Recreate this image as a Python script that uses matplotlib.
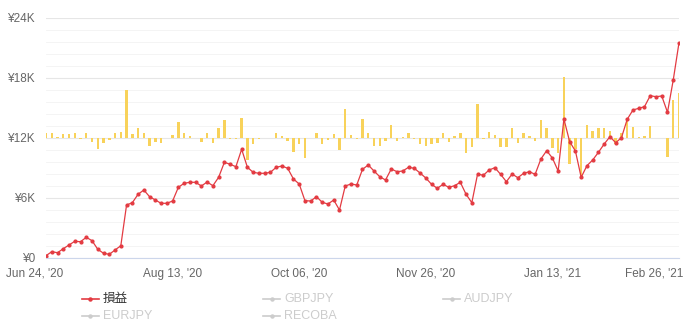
import numpy as np
import matplotlib.pyplot as plt
import matplotlib.transforms as mtransforms
from matplotlib.lines import Line2D

# cumulative profit (yen), one value per trading point
pnl = [230, 630, 530, 930, 1300, 1670, 1630, 2070, 1730, 870,
       470, 370, 800, 1230, 5300, 5530, 6370, 6800, 6130, 5800,
       5470, 5470, 5700, 7070, 7470, 7570, 7570, 7200, 7600, 7230,
       8070, 9570, 9370, 9130, 10870, 9070, 8570, 8470, 8470, 8570,
       9070, 9200, 8970, 7900, 7400, 5730, 5700, 6130, 5570, 5400,
       5800, 4800, 7200, 7400, 7300, 8870, 9300, 8700, 8130, 7800,
       8900, 8630, 8700, 9070, 8970, 8500, 8000, 7370, 6970, 7370,
       7070, 7230, 7570, 6370, 5530, 8400, 8270, 8800, 9030, 8370,
       7630, 8400, 8030, 8470, 8630, 8370, 9900, 10730, 10000, 8700,
       13900, 11630, 10700, 8070, 9230, 9800, 10570, 11400, 12130, 11530,
       12030, 13870, 14800, 14970, 15130, 16230, 16130, 16200, 14570, 17800,
       21530]

# per-point change bars
daily = [470, 500, 100, 400, 400, 470, -100, 470, -430, -1100,
         -500, -150, 500, 630, 4830, 430, 970, 500, -800, -430,
         -470, 0, 350, 1570, 500, 230, 0, -430, 500, -500,
         1000, 1800, -100, -100, 1970, -2170, -600, -100, 0, 50,
         500, 170, -270, -1370, -600, -2000, 0, 500, -600, -200,
         400, -1200, 2900, 300, -50, 1900, 500, -770, -770, -270,
         1300, -270, 70, 500, -50, -600, -830, -600, -530, 500,
         -430, 170, 500, -1530, -930, 3400, -50, 570, 300, -870,
         -930, 970, -500, 500, 170, -270, 1800, 1000, -1030, -1530,
         6130, -2600, -1100, -3800, 1300, 670, 970, 970, 730, -600,
         500, 1970, 1130, 100, 170, 1230, -30, 50, -1870, 3800,
         4470]

tick_pos = [0, 22, 44, 66, 88, 110]
tick_labels = ["Jun 24, '20", "Aug 13, '20", "Oct 06, '20",
               "Nov 26, '20", "Jan 13, '21", "Feb 26, '21"]
y_ticks = [0, 6000, 12000, 18000, 24000]
y_labels = ['¥0', '¥6K', '¥12K', '¥18K', '¥24K']

legend_names = ['損益', 'GBPJPY', 'AUDJPY', 'EURJPY', 'RECOBA']

plt.rcParams['font.family'] = ['Liberation Sans', 'Noto Sans CJK JP', 'DejaVu Sans']

red = '#e33b42'
gold = '#f8d25a'
grid_c = '#e6e6e6'
label_c = '#666666'

fig = plt.figure(figsize=(6.86, 3.33), dpi=100)
ax = fig.add_axes([46/686, 1 - 258/333, 633/686, 240/333])
axb = ax.twinx()

x = np.arange(len(pnl))

# bars live on the twin axis, zero in the middle
axb.bar(x, daily, width=0.42, color=gold, zorder=2)
axb.set_ylim(-12000, 12000)
axb.set_yticks(np.arange(-12000, 12001, 6000))
axb.set_yticks(np.arange(-12000, 12001, 1200), minor=True)
axb.grid(True, which='major', color=grid_c, lw=0.8, zorder=0)
axb.grid(True, which='minor', axis='y', color='#f3f3f3', lw=0.6, zorder=0)
axb.set_axisbelow(True)
axb.tick_params(axis='y', which='both', length=0, labelright=False)
for s in axb.spines.values():
    s.set_visible(False)

# cumulative line on top
ax.set_zorder(axb.get_zorder() + 1)
ax.patch.set_visible(False)
ax.plot(x, pnl, color=red, lw=0.9, marker='o', ms=2.0, mec=red, mfc=red)
ax.set_ylim(0, 24000)
ax.set_xlim(0, len(pnl) - 1)
ax.set_yticks(y_ticks)
ax.set_yticklabels(y_labels)
ax.set_xticks(tick_pos)
ax.set_xticklabels(tick_labels)
ax.tick_params(axis='both', length=0, labelsize=8.5, labelcolor=label_c)
ax.tick_params(axis='y', pad=8)
ax.tick_params(axis='x', pad=7)
for k, s in ax.spines.items():
    s.set_visible(k == 'bottom')
ax.spines['bottom'].set_color('#ccd6eb')

# keep the end labels inside the figure
xl = ax.get_xticklabels()
xl[0].set_transform(xl[0].get_transform() +
                    mtransforms.ScaledTranslation(-11/100, 0, fig.dpi_scale_trans))
xl[-1].set_transform(xl[-1].get_transform() +
                     mtransforms.ScaledTranslation(-25/100, 0, fig.dpi_scale_trans))

# legend below the plot
leg_x = [82, 263, 443, 82, 263]
leg_y = [299, 299, 299, 316, 316]
for i, name in enumerate(legend_names):
    active = i == 0
    c = red if active else '#cccccc'
    x0, y0 = leg_x[i] / 686, 1 - leg_y[i] / 333
    fig.add_artist(Line2D([x0, x0 + 17/686], [y0, y0], color=c, lw=1.2,
                          transform=fig.transFigure))
    fig.add_artist(Line2D([x0 + 8.5/686], [y0], color=c, marker='o', ms=2.2,
                          transform=fig.transFigure))
    fig.text(x0 + 21/686, y0, name, fontsize=9, va='center',
             color='#333333' if active else '#cccccc')

plt.savefig('out.png', dpi=100)
plt.close('all')
